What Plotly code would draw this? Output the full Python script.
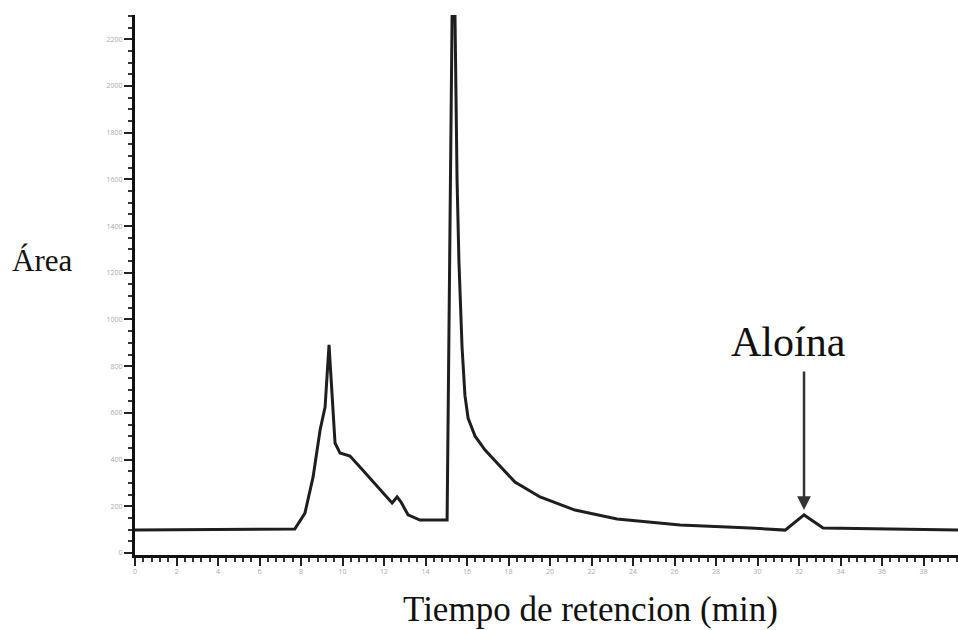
import plotly.graph_objects as go

# Retention time (min) and detector response (area units)
tiempo = [0.0, 7.7, 8.19, 8.58, 8.92, 9.16, 9.35, 9.54, 9.64, 9.88, 10.36, 10.84,
          11.81, 12.39, 12.63, 12.82, 13.16, 13.73, 15.04, 15.13, 15.28, 15.42,
          15.52, 15.61, 15.76, 15.9, 16.05, 16.39, 16.87, 17.45, 18.31, 19.52, 21.2,
          23.23, 26.27, 29.64, 31.33, 32.24, 33.16, 39.66]
area = [98, 103, 171, 325, 527, 625, 891, 612, 471, 428, 415, 368,
        270, 214, 240, 218, 163, 141, 141, 1084, 2300, 2300,
        1597, 1250, 882, 675, 578, 500, 441, 385, 304, 240, 184,
        146, 120, 107, 98, 163, 107, 98]

x_ticks = list(range(0, 40, 2))
y_ticks = list(range(0, 2400, 200))

pico_label = "Aloína"
pico_x = 32.24
pico_y = 184
label_x = 31.47
label_y = 905

fig = go.Figure()
fig.add_trace(go.Scatter(
    x=tiempo, y=area, mode="lines",
    line=dict(color="#1e1e1e", width=3),
    showlegend=False, hoverinfo="skip"))

serif = "Liberation Serif, Times New Roman, serif"

fig.add_annotation(x=pico_x, y=pico_y, xref="x", yref="y", text="",
                   showarrow=True, ax=0, ay=-140, arrowhead=2, arrowsize=1.1,
                   arrowwidth=2.5, arrowcolor="#333")
fig.add_annotation(x=label_x, y=label_y, xref="x", yref="y", text=pico_label,
                   xanchor="center", yanchor="middle",
                   showarrow=False, font=dict(family=serif, size=42, color="#111"))
fig.add_annotation(x=-0.113, y=0.545, xref="paper", yref="paper", text="Área",
                   xanchor="center", yanchor="middle",
                   showarrow=False, font=dict(family=serif, size=31, color="#111"))
fig.add_annotation(x=0.553, y=-0.1, xref="paper", yref="paper",
                   text="Tiempo de retencion (min)",
                   xanchor="center", yanchor="middle",
                   showarrow=False, font=dict(family=serif, size=35, color="#111"))

fig.update_layout(
    width=958, height=630,
    margin=dict(l=135, r=0, t=15, b=75),
    paper_bgcolor="white", plot_bgcolor="white",
    xaxis=dict(range=[0, 39.66], showgrid=False, zeroline=False,
               showline=True, linecolor="#111", linewidth=3,
               tickmode="array", tickvals=x_ticks,
               ticks="outside", ticklen=8, tickwidth=2, tickcolor="#222",
               tickfont=dict(size=7, color="#aaa"),
               minor=dict(dtick=0.4, ticks="outside", ticklen=4, tickwidth=2,
                          tickcolor="#333", showgrid=False)),
    yaxis=dict(range=[-8.6, 2304], showgrid=False, zeroline=False,
               showline=True, linecolor="#111", linewidth=3,
               tickmode="array", tickvals=y_ticks,
               ticks="outside", ticklen=8, tickwidth=2, tickcolor="#222",
               tickfont=dict(size=7, color="#aaa"),
               minor=dict(dtick=50, ticks="outside", ticklen=4, tickwidth=2,
                          tickcolor="#333", showgrid=False)),
)

fig.write_html("out.html")
